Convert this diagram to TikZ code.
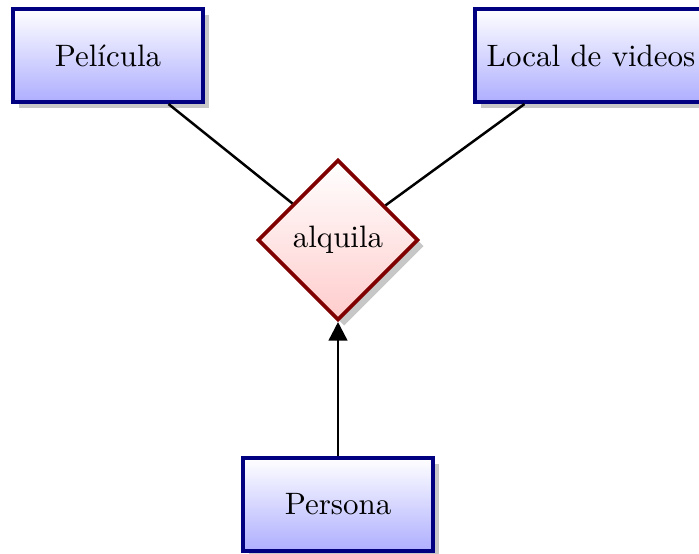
\documentclass[tikz,border=0pt]{standalone}
\usepackage{amsmath}
\usepackage{tikz}
\usepackage{xcolor}
\usetikzlibrary{arrows.meta,shapes.geometric,shadows}

\tikzset{
    sombra/.style={drop shadow={shadow xshift=0.07cm, shadow yshift=-0.07cm, fill=black!22, opacity=1}},
    entidad/.style={rectangle, draw=blue!50!black, line width=1.2pt, top color=white, bottom color=blue!32,
        minimum width=2.16cm, minimum height=1.06cm, inner sep=0pt, sombra},
    relacion/.style={diamond, draw=red!50!black, line width=1.2pt, top color=white, bottom color=red!20,
        minimum width=1.82cm, minimum height=1.82cm, inner sep=0pt, sombra},
}

\begin{document}
\begin{tikzpicture}[x=0.01135cm, y=-0.01135cm]
                \useasboundingbox (0,0) rectangle (699,554);
                \node[entidad] (pelicula) at (108,55.5) {Película};
                \node[entidad, minimum width=2.64cm] (local) at (591,55.5) {Local de videos};
                \node[relacion] (alquila) at (338,240) {alquila};
                \node[entidad] (persona) at (338,504.5) {Persona};
                \draw[black, thick] (pelicula) -- (alquila);
                \draw[black, thick] (local) -- (alquila);
                \draw[-{Triangle[length=6pt, width=6pt]}, black, thick] (persona) -- (alquila);
            \end{tikzpicture}
\end{document}
